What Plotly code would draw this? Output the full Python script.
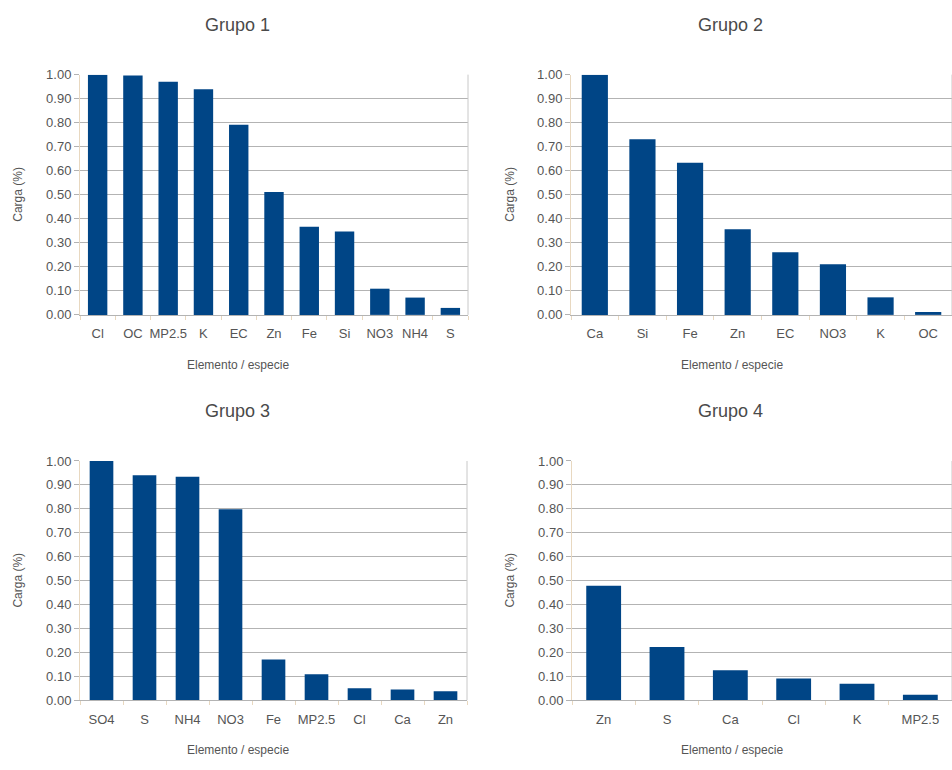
import plotly.graph_objects as go

W, H = 952, 770

g1_cats = ["Cl", "OC", "MP2.5", "K", "EC", "Zn", "Fe", "Si", "NO3", "NH4", "S"]
g1_vals = [1.00, 0.996, 0.970, 0.939, 0.792, 0.512, 0.367, 0.347, 0.109, 0.072, 0.029]

g2_cats = ["Ca", "Si", "Fe", "Zn", "EC", "NO3", "K", "OC"]
g2_vals = [1.00, 0.731, 0.633, 0.356, 0.261, 0.211, 0.073, 0.012]

g3_cats = ["SO4", "S", "NH4", "NO3", "Fe", "MP2.5", "Cl", "Ca", "Zn"]
g3_vals = [1.00, 0.940, 0.934, 0.798, 0.170, 0.109, 0.050, 0.045, 0.037]

g4_cats = ["Zn", "S", "Ca", "Cl", "K", "MP2.5"]
g4_vals = [0.479, 0.222, 0.125, 0.091, 0.069, 0.023]

titles = ["Grupo 1", "Grupo 2", "Grupo 3", "Grupo 4"]
y_title = "Carga (%)"
x_title = "Elemento / especie"
y_ticks = [0.0, 0.1, 0.2, 0.3, 0.4, 0.5, 0.6, 0.7, 0.8, 0.9, 1.0]

BAR = "#004586"
TXT = "#555555"
FONT = "Liberation Sans, Arial, sans-serif"

# pixel boxes (left, right, top, bottom) of each plot area
boxes = [(80, 468, 69, 314), (571, 952, 69, 314),
         (80, 467, 463, 707), (572, 952, 463, 707)]
title_pos = [(237, 18), (730, 18), (237, 412), (730, 412)]
xtitle_x = [238, 732, 238, 732]
xtitle_y = [365, 365, 758, 758]
ytitle_x = [18, 510, 18, 510]

data = [(g1_cats, g1_vals), (g2_cats, g2_vals), (g3_cats, g3_vals), (g4_cats, g4_vals)]

fig = go.Figure()
layout = dict(
    width=W, height=H,
    margin=dict(l=0, r=0, t=0, b=0),
    paper_bgcolor="white", plot_bgcolor="white",
    showlegend=False, bargap=0.45,
    font=dict(family=FONT, color=TXT, size=10),
)
annotations = []
for i, ((cats, vals), (l, r, t, b)) in enumerate(zip(data, boxes)):
    n = "" if i == 0 else str(i + 1)
    fig.add_trace(go.Bar(x=cats, y=vals, marker=dict(color=BAR, line=dict(width=0)),
                         xaxis="x" + n, yaxis="y" + n, hoverinfo="x+y"))
    layout["xaxis" + n] = dict(
        domain=[l / W, r / W], anchor="y" + n,
        type="category", tickson="boundaries", ticks="outside", ticklen=4,
        tickcolor="#e8d8c0", showline=True, linecolor="#b3b3b3", mirror=False,
        showgrid=False, tickangle=0, ticklabelstandoff=7,
        tickfont=dict(size=13, color=TXT), fixedrange=True,
    )
    layout["yaxis" + n] = dict(
        domain=[1 - b / H, 1 - t / H], anchor="x" + n,
        range=[0, 1.0], tickvals=y_ticks, tickformat=".2f",
        ticks="outside", ticklen=5, tickcolor="#b3b3b3",
        showgrid=True, gridcolor="#b3b3b3", gridwidth=1,
        showline=True, linecolor="#e8d8c0", mirror=False,
        zeroline=False, tickfont=dict(size=13, color=TXT), fixedrange=True,
    )
    # right frame line
    fig.add_shape(type="line", xref="paper", yref="paper",
                  x0=r / W, x1=r / W, y0=1 - b / H, y1=1 - t / H,
                  line=dict(color="#c8c8c8", width=1))
    tx, ty = title_pos[i]
    annotations.append(dict(text=titles[i], x=tx / W, y=1 - ty / H, xref="paper", yref="paper",
                            showarrow=False, xanchor="center", yanchor="middle",
                            font=dict(size=18, color="#4a4a4a")))
    annotations.append(dict(text=x_title, x=xtitle_x[i] / W,
                            y=1 - xtitle_y[i] / H, xref="paper", yref="paper",
                            showarrow=False, xanchor="center", yanchor="middle",
                            font=dict(size=12, color=TXT)))
    annotations.append(dict(text=y_title, x=ytitle_x[i] / W, y=1 - (t + b) / 2 / H,
                            xref="paper", yref="paper", textangle=-90,
                            showarrow=False, xanchor="center", yanchor="middle",
                            font=dict(size=12, color=TXT)))

layout["annotations"] = annotations
fig.update_layout(**layout)
fig.write_html("out.html", config={"displayModeBar": False},
               post_script="document.body.style.margin='0';document.body.style.overflow='hidden';")
